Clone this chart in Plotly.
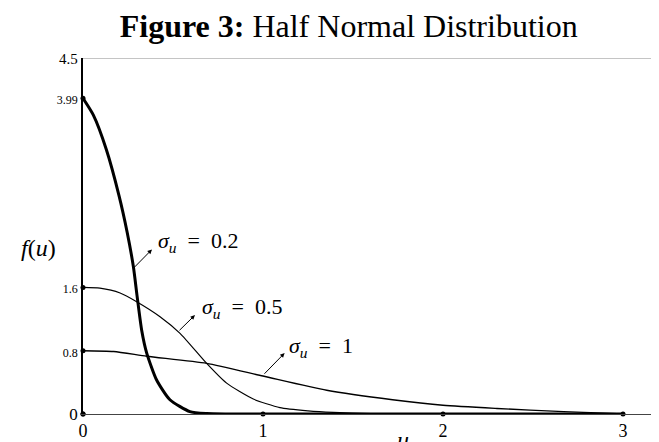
import plotly.graph_objects as go

# --- data ---
u_s02 = [0, 0.057, 0.13, 0.2, 0.245, 0.28, 0.30, 0.326, 0.354, 0.409, 0.483, 0.594, 0.687, 0.8, 1.0, 3.0]
f_s02 = [3.99, 3.78, 3.34, 2.76, 2.30, 1.86, 1.50, 1.06, 0.77, 0.43, 0.18, 0.03, 0.005, 0, 0, 0]

u_s05 = [0, 0.094, 0.206, 0.298, 0.428, 0.539, 0.687, 0.798, 0.946, 1.094, 1.25, 1.39, 1.6, 1.8, 3.0]
f_s05 = [1.60, 1.59, 1.53, 1.42, 1.23, 1.02, 0.64, 0.39, 0.19, 0.08, 0.04, 0.02, 0.005, 0, 0]

u_s1 = [0, 0.17, 0.354, 0.687, 1.0, 1.354, 1.72, 2.0, 2.30, 2.67, 2.9, 3.0]
f_s1 = [0.80, 0.79, 0.73, 0.64, 0.48, 0.30, 0.18, 0.11, 0.07, 0.03, 0.01, 0]

y_tickvals = [0, 0.8, 1.6, 3.99, 4.5]
y_ticktext = ["0", "0.8", "1.6", "3.99", "4.5"]
y_ticksize = [17, 12, 12, 12, 15]
x_tickvals = [0, 1, 2, 3]
x_ticktext = ["0", "1", "2", "3"]

labels = ["<i>σ</i><sub><i>u</i></sub>&nbsp; = &nbsp;0.2",
          "<i>σ</i><sub><i>u</i></sub>&nbsp; = &nbsp;0.5",
          "<i>σ</i><sub><i>u</i></sub>&nbsp; = &nbsp;1"]
label_pos = [(0.64, 2.17), (0.885, 1.34), (1.32, 0.85)]
arrow_head = [(0.383, 2.08), (0.622, 1.25), (1.12, 0.77)]
arrow_tail = [(0.279, 1.84), (0.528, 1.04), (1.0, 0.49)]

SERIF = "Liberation Serif"

fig = go.Figure()
fig.add_trace(go.Scatter(x=u_s1, y=f_s1, mode="lines",
                         line=dict(color="black", width=1.4, shape="spline", smoothing=0.6)))
fig.add_trace(go.Scatter(x=u_s05, y=f_s05, mode="lines",
                         line=dict(color="black", width=1.2, shape="spline", smoothing=0.6)))
fig.add_trace(go.Scatter(x=u_s02, y=f_s02, mode="lines",
                         line=dict(color="black", width=3, shape="spline", smoothing=0.6)))
# tick dots
fig.add_trace(go.Scatter(x=[0] * 4, y=y_tickvals[:4], mode="markers",
                         marker=dict(color="black", size=5), cliponaxis=False))
fig.add_trace(go.Scatter(x=x_tickvals, y=[0] * 4, mode="markers",
                         marker=dict(color="black", size=5), cliponaxis=False))

# top border line
fig.add_shape(type="line", x0=0, x1=1, xref="paper", y0=4.5, y1=4.5, yref="y",
              line=dict(color="#8a8a8a", width=1.2))

for txt, (lx, ly) in zip(labels, label_pos):
    fig.add_annotation(x=lx, y=ly, text=txt, showarrow=False,
                       font=dict(family=SERIF, size=22, color="black"))
for (hx, hy), (tx, ty) in zip(arrow_head, arrow_tail):
    fig.add_annotation(x=hx, y=hy, ax=tx, ay=ty, axref="x", ayref="y", text="",
                       showarrow=True, arrowhead=2, arrowsize=0.9, arrowwidth=1,
                       arrowcolor="black", standoff=0, startstandoff=0)

fig.add_annotation(x=-0.078, xref="paper", y=2.10, text="<i>f</i>(<i>u</i>)", showarrow=False,
                   font=dict(family=SERIF, size=24, color="black"), xanchor="center")
fig.add_annotation(x=1.78, xref="x", y=-0.03, yref="paper", text="<i>u</i>", showarrow=False,
                   yanchor="top", font=dict(family=SERIF, size=24, color="black"))

# the page body has an 8px offset; margins compensate so the plot area lands where the reference has it
fig.update_layout(
    width=659, height=442,
    margin=dict(l=75, r=8, t=50, b=36),
    paper_bgcolor="white", plot_bgcolor="white",
    showlegend=False,
    title=dict(text="<b>Figure 3:</b> Half Normal Distribution", x=0.517, xanchor="center",
               y=0.959, yanchor="middle", font=dict(family=SERIF, size=32, color="black")),
    xaxis=dict(range=[0, 3.2], showgrid=False, zeroline=False, showline=True,
               linecolor="#444", linewidth=1, tickvals=x_tickvals, ticktext=x_ticktext,
               tickfont=dict(family=SERIF, size=18, color="black"), ticks="", fixedrange=True),
    yaxis=dict(range=[0, 4.5], showgrid=False, zeroline=False, showline=True,
               linecolor="black", linewidth=1.5, tickvals=y_tickvals,
               ticktext=[f"<span style='font-size:{s}px'>{t}</span>" for t, s in zip(y_ticktext, y_ticksize)],
               tickfont=dict(family=SERIF, size=17, color="black"), ticks="", fixedrange=True),
)

fig.write_html("out.html")
